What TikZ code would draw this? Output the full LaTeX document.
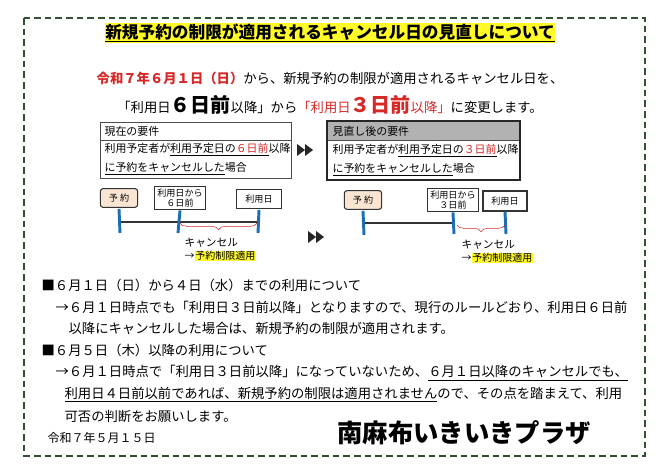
\documentclass[tikz,border=0pt]{standalone}
\usepackage{fontspec}
\setmainfont{Noto Sans CJK JP}
\usetikzlibrary{positioning, arrows.meta, decorations.pathreplacing}
\definecolor{frameGreen}{RGB}{50,80,50}
\definecolor{noteRed}{RGB}{215,40,40}
\definecolor{tickBlue}{RGB}{30,110,180}
\definecolor{peach}{RGB}{250,228,210}
\definecolor{hiYellow}{RGB}{255,250,40}
\newcommand{\hl}[1]{{\setlength{\fboxsep}{0.5pt}\colorbox{hiYellow}{#1}}}
\begin{document}
\begin{tikzpicture}[
x=0.75pt, y=-0.75pt,
every node/.style={inner sep=1pt, font=\fontsize{10}{12}\selectfont},
body/.style={anchor=west},
reqtext/.style={anchor=west, font=\fontsize{8.2}{9}\selectfont},
datebox/.style={draw=black!80, thick, align=center, font=\fontsize{6.8}{7.6}\selectfont, inner sep=2pt},
tick/.style={draw=tickBlue, line width=2.2pt},
brace/.style={draw=noteRed, decorate, decoration={brace, mirror, amplitude=5pt}}
]
\useasboundingbox (0,0) rectangle (660,466);
\fill[white] (0,0) rectangle (660,466);

% ====== Frame and heading ======
\draw[frameGreen, thick, dash pattern=on 5pt off 3pt] (24,18) rectangle (645,456);
\node[font=\fontsize{12.5}{14}\bfseries\selectfont] (title) at (330,33) {\hl{\underline{新規予約の制限が適用されるキャンセル日の見直しについて}}};
\node (lead) at (330,78) {\textcolor{noteRed}{\bfseries 令和７年６月１日（日）}から、新規予約の制限が適用されるキャンセル日を、};
\node (change) at (330,105) {「利用日{\fontsize{15}{16}\bfseries\selectfont ６日前}以降」から\textcolor{noteRed}{「利用日{\fontsize{15}{16}\bfseries\selectfont ３日前}以降」}に変更します。};

% ====== Requirement boxes ======
\draw[black!70] (100,122) rectangle (291,178);
\draw[black!70] (100,140) -- (291,140);
\node[reqtext] (oldHead) at (103,131) {現在の要件};
\node[reqtext] (oldA) at (103,150) {利用予定者が\underline{利用予定日の\textcolor{noteRed}{６日前}}以降};
\node[reqtext] (oldB) at (103,169) {\underline{に予約をキャンセルした}場合};

\fill[black!30] (328,122) rectangle (519,140);
\draw[black!85, line width=2.2pt] (327,121) rectangle (520,180);
\draw[black!70] (328,140) -- (519,140);
\node[reqtext] (newHead) at (331,131) {見直し後の要件};
\node[reqtext] (newA) at (331,151) {利用予定者が\underline{利用予定日の\textcolor{noteRed}{３日前}}以降};
\node[reqtext] (newB) at (331,170) {\underline{に予約をキャンセルした}場合};

\fill[black!85] (297,144) -- (305,150) -- (297,156) -- cycle (305,144) -- (313,150) -- (305,156) -- cycle;
\fill[black!85] (308,231) -- (316,237) -- (308,243) -- cycle (316,231) -- (324,237) -- (316,243) -- cycle;

% ====== Current timeline ======
\node[datebox, fill=peach, rounded corners=2pt, minimum width=28pt, minimum height=14pt] (bookL) at (119,198) {予 約};
\node[datebox, minimum width=33pt] (sixL) at (180,198) {利用日から\\６日前};
\node[datebox, minimum width=34pt, minimum height=14pt] (useL) at (259,199) {利用日};
\draw[black!80, thick] (120,222) -- (258,222);
\draw[tick] (bookL.south) ++(0,1) -- (120,233);
\draw[tick] (sixL.south) -- (178,233);
\draw[tick] (useL.south) ++(0,1) -- (258,233);
\draw[brace] (180,223) -- (257,223);
\node[body, font=\fontsize{8}{9}\selectfont] (cancelL) at (183,243) {キャンセル};
\node[body, font=\fontsize{7.5}{9}\selectfont] (ruleL) at (183,256) {→\hl{予約制限適用}};

% ====== Revised timeline ======
\node[datebox, fill=peach, rounded corners=2pt, minimum width=28pt, minimum height=14pt] (bookR) at (363,200) {予 約};
\node[datebox, minimum width=31pt] (threeR) at (453,200) {利用日から\\３日前};
\node[datebox, minimum width=33pt, minimum height=15pt] (useR) at (505,201) {利用日};
\draw[black!80, thick] (364,223) -- (454,223);
\draw[tick] (bookR.south) ++(0,1) -- (364,235);
\draw[tick] (threeR.south) -- (454,234);
\draw[tick] (useR.south) -- (506,234);
\draw[brace] (457,225) -- (505,225);
\node[body, font=\fontsize{8}{9}\selectfont] (cancelR) at (460,245) {キャンセル};
\node[body, font=\fontsize{7.5}{9}\selectfont] (ruleR) at (460,258) {→\hl{予約制限適用}};

% ====== Notes ======
\node[body] (n1) at (40,285) {■６月１日（日）から４日（水）までの利用について};
\node[body] (n2) at (54,307) {→６月１日時点でも「利用日３日前以降」となりますので、現行のルールどおり、利用日６日前};
\node[body] (n3) at (67,328) {以降にキャンセルした場合は、新規予約の制限が適用されます。};
\node[body] (n4) at (40,350) {■６月５日（木）以降の利用について};
\node[body] (n5) at (54,373) {→６月１日時点で「利用日３日前以降」になっていないため、\underline{６月１日以降のキャンセルでも、}};
\node[body] (n6) at (63,395) {\underline{利用日４日前以前であれば、新規予約の制限は適用されません}ので、その点を踏まえて、利用};
\node[body] (n7) at (63,416) {可否の判断をお願いします。};

% ====== Footer ======
\node[body, font=\fontsize{9}{10}\selectfont] (date) at (46,438) {令和７年５月１５日};
\node[body, font=\fontsize{19}{21}\bfseries\selectfont] (org) at (336,433) {南麻布いきいきプラザ};
\end{tikzpicture}
\end{document}
